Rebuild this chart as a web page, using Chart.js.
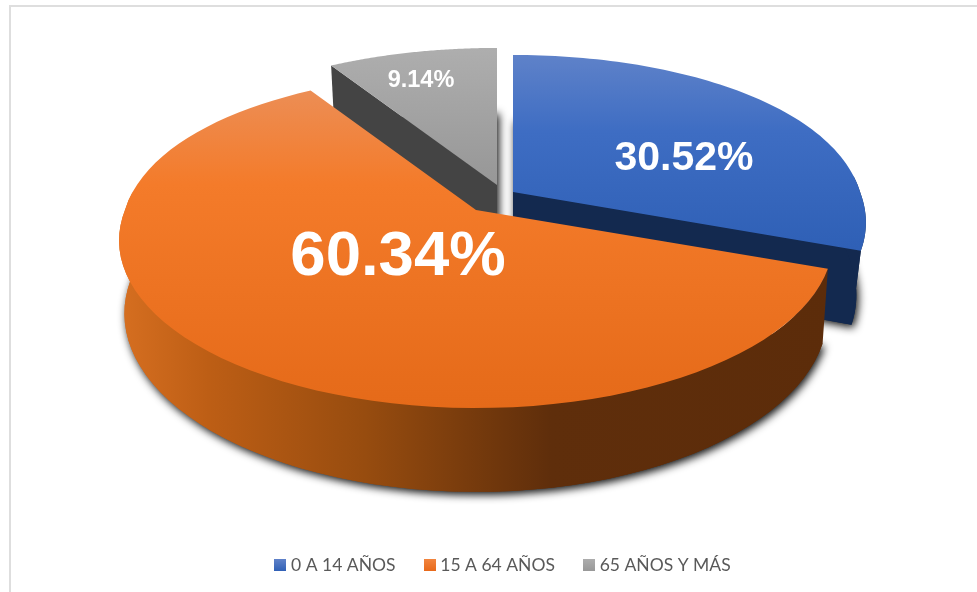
<!DOCTYPE html>
<html>
<head>
<meta charset="utf-8">
<script src="https://cdn.jsdelivr.net/npm/chart.js@4"></script>
<style>
    html, body { margin: 0; padding: 0; background: #fff; overflow: hidden; }
    #frame {
        position: absolute; left: 9px; top: 5px; width: 968px; height: 577px;
        border-left: 2px solid #dedede; border-top: 2px solid #dedede;
    }
    #edge { position: absolute; left: 9px; top: 5px; width: 2px; height: 587px; background: #dedede; }
</style>
</head>
<body>
<div id="edge"></div>
<div id="frame"><canvas id="pie"></canvas></div>
<script>
const categories = ["0 A 14 AÑOS", "15 A 64 AÑOS", "65 AÑOS Y MÁS"];
const shares = [30.52, 60.34, 9.14];
const legendTop = ["#5f82c9", "#f2853f", "#adadad"];
const legendBottom = ["#2f60b6", "#e8691a", "#989898"];

// look of the tilted disc (canvas pixels, canvas starts at 11,7)
const radiusX = [347, 351, 352], radiusY = 162, tilt = 0.182, depth = 71;
const floorScale = [0.973, 0.985, 0.98];
const topBulge = 0.93;
const apex = [[502, 185], [465, 203], [486, 178]];
const labelAt = [[673, 152], [387, 250], [410, 74]];
const labelFont = [41, 63.5, 23.5];
const drawOrder = [2, 0, 1];

function project(slice, a, lower) {
    const u = Math.cos(a);
    let v = Math.sin(a);
    const w = 1 - tilt * v;
    if (v < 0) v = -Math.pow(-v, topBulge);
    const s = lower ? floorScale[slice] : 1;
    return [
        apex[slice][0] + radiusX[slice] * u * s / w,
        apex[slice][1] + (radiusY * v * s + (lower ? depth : 0)) / w
    ];
}

function tracePie(ctx, slice, arc, lower) {
    const c = apex[slice];
    ctx.beginPath();
    ctx.moveTo(c[0], c[1] + (lower ? depth : 0));
    for (let i = 0; i <= 80; i++) {
        const p = project(slice, arc.startAngle + (arc.endAngle - arc.startAngle) * i / 80, lower);
        ctx.lineTo(p[0], p[1]);
    }
    ctx.closePath();
}

function stops(grad, list) {
    list.forEach(s => grad.addColorStop(s[0], s[1]));
    return grad;
}

function sideFill(ctx, slice) {
    if (slice === 0) return "#13294f";
    if (slice === 2) return "#444444";
    return stops(ctx.createLinearGradient(112, 0, 825, 0), [
        [0, "#d56e20"], [0.12, "#bd5e15"], [0.34, "#974c0f"],
        [0.6, "#5f2e0b"], [1, "#5c2c0a"]
    ]);
}

function topFill(ctx, slice) {
    if (slice === 0) {
        return stops(ctx.createLinearGradient(0, 47, 0, 241), [
            [0, "#5f82c9"], [0.4, "#3e6dc3"], [1, "#2f60b6"]
        ]);
    }
    if (slice === 2) {
        return stops(ctx.createLinearGradient(0, 40, 0, 176), [[0, "#aeaeae"], [1, "#979797"]]);
    }
    return stops(ctx.createLinearGradient(0, 81, 0, 401), [
        [0, "#ec8e56"], [0.3, "#f47b2a"], [1, "#e56a19"]
    ]);
}

function legendSwatch(i) {
    const c = document.createElement("canvas");
    c.width = 12;
    c.height = 12;
    const g = c.getContext("2d");
    const grad = g.createLinearGradient(0, 0, 0, 12);
    grad.addColorStop(0, legendTop[i]);
    grad.addColorStop(1, legendBottom[i]);
    g.fillStyle = grad;
    g.fillRect(0, 0, 12, 12);
    return c;
}

const disc3d = {
    id: "disc3d",
    beforeDatasetDraw() { return false; },
    afterDatasetsDraw(chart) {
        const ctx = chart.ctx;
        const arcs = chart.getDatasetMeta(0).data;
        drawOrder.forEach(i => {
            const arc = arcs[i];
            ctx.save();
            // floor of the slice, with the soft shadow
            ctx.shadowColor = "rgba(0,0,0,0.95)";
            ctx.shadowBlur = 9;
            ctx.shadowOffsetX = 2;
            ctx.shadowOffsetY = 3;
            ctx.fillStyle = sideFill(ctx, i);
            tracePie(ctx, i, arc, true);
            ctx.fill();
            ctx.restore();

            ctx.fillStyle = sideFill(ctx, i);
            const c = apex[i];

            // cut face that looks at the viewer (the orange one stays hidden)
            if (i !== 1) {
                const a = i === 0 ? arc.endAngle : arc.startAngle;
                const t = project(i, a, false), b = project(i, a, true);
                ctx.beginPath();
                ctx.moveTo(c[0], c[1]);
                ctx.lineTo(t[0], t[1]);
                ctx.lineTo(b[0], b[1]);
                ctx.lineTo(c[0], c[1] + depth);
                ctx.closePath();
                ctx.fill();
            }

            // outer wall, only on the front part of the rim
            const rim = [];
            for (let k = 0; k <= 80; k++) {
                const a = arc.startAngle + (arc.endAngle - arc.startAngle) * k / 80;
                if (Math.sin(a) >= -0.1) rim.push(a);
            }
            if (rim.length > 1) {
                ctx.beginPath();
                rim.forEach((a, k) => {
                    const p = project(i, a, false);
                    k ? ctx.lineTo(p[0], p[1]) : ctx.moveTo(p[0], p[1]);
                });
                rim.slice().reverse().forEach(a => {
                    const p = project(i, a, true);
                    ctx.lineTo(p[0], p[1]);
                });
                ctx.closePath();
                ctx.fill();
            }

            // top face
            ctx.fillStyle = topFill(ctx, i);
            tracePie(ctx, i, arc, false);
            ctx.fill();
        });

        ctx.save();
        ctx.fillStyle = "#fff";
        ctx.textAlign = "center";
        ctx.textBaseline = "middle";
        shares.forEach((val, i) => {
            ctx.font = `bold ${labelFont[i]}px "Liberation Sans"`;
            ctx.fillText(val.toFixed(2) + "%", labelAt[i][0], labelAt[i][1]);
        });
        ctx.restore();
    }
};

new Chart(document.getElementById("pie"), {
    type: "pie",
    data: {
        labels: categories,
        datasets: [{ data: shares, backgroundColor: legendBottom, borderWidth: 0 }]
    },
    plugins: [disc3d],
    options: {
        responsive: true,
        maintainAspectRatio: false,
        animation: false,
        layout: { padding: { left: 19 } },
        plugins: {
            tooltip: { enabled: false },
            legend: {
                position: "bottom",
                labels: {
                    usePointStyle: true,
                    pointStyleWidth: 4,
                    boxHeight: 12,
                    padding: 32,
                    color: "#595959",
                    font: { family: "Lato", size: 17.5 },
                    generateLabels: () => categories.map((text, i) => ({
                        text: text,
                        pointStyle: legendSwatch(i),
                        fontColor: "#595959",
                        lineWidth: 0,
                        hidden: false,
                        index: i
                    }))
                }
            }
        }
    }
});
</script>
</body>
</html>
